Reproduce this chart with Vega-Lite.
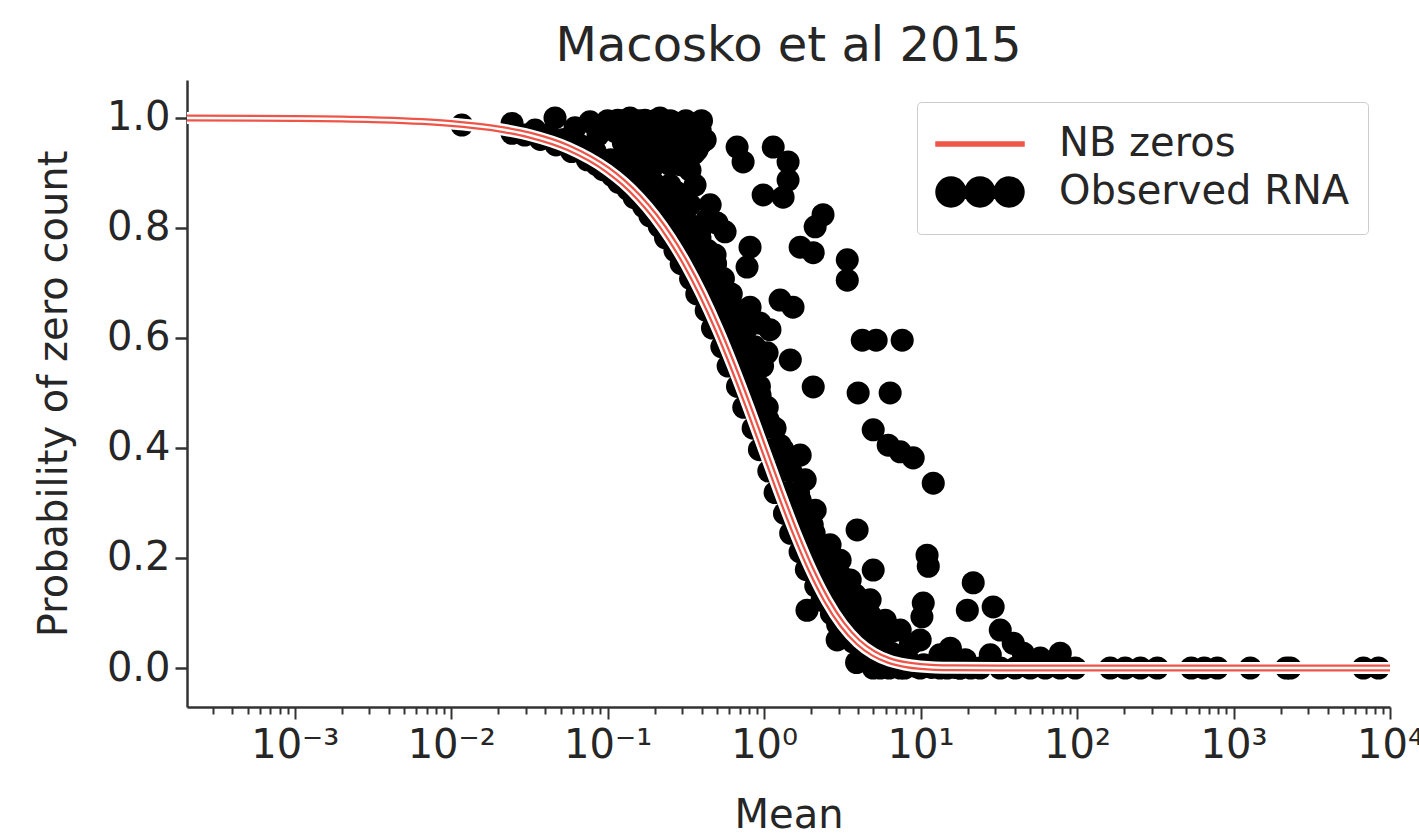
{
"$schema": "https://vega.github.io/schema/vega-lite/v6.json",
"autosize": {"type": "none"},
"padding": {"left": 187, "top": 80, "right": 29, "bottom": 130},
"width": 1203,
"height": 627,
"background": "white",
"config": {"view": {"stroke": null}, "font": "DejaVu Sans"},
"title": {"text": "Macosko et al 2015", "fontSize": 48, "font": "DejaVu Sans", "fontWeight": "normal", "color": "#262626", "offset": 9, "anchor": "middle"},
"datasets": {
"curve": [
{"m":0.000205,"p":0.9998},{"m":0.001,"p":0.999},{"m":0.00316,"p":0.9968},{"m":0.01,"p":0.9901},{"m":0.0178,"p":0.9824},{"m":0.0316,"p":0.969},{"m":0.0562,"p":0.9456},{"m":0.1,"p":0.9056},{"m":0.1259,"p":0.8829},{"m":0.1585,"p":0.8552},{"m":0.1995,"p":0.8218},{"m":0.2512,"p":0.7818},{"m":0.3162,"p":0.7348},{"m":0.3981,"p":0.6801},{"m":0.5012,"p":0.6179},{"m":0.631,"p":0.5488},{"m":0.7943,"p":0.4743},{"m":1,"p":0.3966},{"m":1.259,"p":0.3189},{"m":1.585,"p":0.245},{"m":1.995,"p":0.1786},{"m":2.512,"p":0.1227},{"m":3.162,"p":0.0789},{"m":3.981,"p":0.0472},{"m":5.012,"p":0.0262},{"m":6.31,"p":0.0134},{"m":7.943,"p":0.0064},{"m":10,"p":0.0028},{"m":15.85,"p":0.0004},{"m":31.62,"p":0.0},{"m":100,"p":0},{"m":10000,"p":0}
],
"pts": [
{"m":0.0117,"p":0.987},{"m":0.0245,"p":0.99},{"m":0.0245,"p":0.972},{"m":0.0344,"p":0.978},{"m":0.0461,"p":1.0},{"m":0.0619,"p":0.982},{"m":0.0771,"p":0.993},{"m":0.0868,"p":0.969},
{"m":0.116,"p":0.996},{"m":0.139,"p":1.0},{"m":0.173,"p":0.996},{"m":0.216,"p":1.0},{"m":0.258,"p":0.993},{"m":0.313,"p":0.987},{"m":0.129,"p":0.969},{"m":0.161,"p":0.96},{"m":0.201,"p":0.969},{"m":0.243,"p":0.96},{"m":0.187,"p":0.933},{"m":0.233,"p":0.927},{"m":0.29,"p":0.942},{"m":0.39,"p":0.978},{"m":0.42,"p":0.96},{"m":0.373,"p":0.942},{"m":0.336,"p":0.905},{"m":0.278,"p":0.864},{"m":0.432,"p":0.815},
{"m":0.1,"p":0.995},{"m":0.126,"p":0.995},{"m":0.158,"p":0.995},{"m":0.2,"p":0.995},{"m":0.251,"p":0.995},{"m":0.316,"p":0.995},{"m":0.398,"p":0.995},
{"m":0.112,"p":0.975},{"m":0.141,"p":0.975},{"m":0.178,"p":0.975},{"m":0.224,"p":0.975},{"m":0.282,"p":0.975},{"m":0.355,"p":0.975},
{"m":0.126,"p":0.955},{"m":0.158,"p":0.955},{"m":0.2,"p":0.955},{"m":0.251,"p":0.955},{"m":0.316,"p":0.955},{"m":0.398,"p":0.955},
{"m":0.141,"p":0.935},{"m":0.178,"p":0.935},{"m":0.224,"p":0.935},{"m":0.282,"p":0.935},{"m":0.355,"p":0.935},
{"m":0.2,"p":0.915},{"m":0.251,"p":0.915},{"m":0.316,"p":0.915},
{"m":0.672,"p":0.947},{"m":0.734,"p":0.92},{"m":1.143,"p":0.947},{"m":1.423,"p":0.92},{"m":1.423,"p":0.887},{"m":0.986,"p":0.86},{"m":1.322,"p":0.856},{"m":2.38,"p":0.824},{"m":2.12,"p":0.802},{"m":1.7,"p":0.765},{"m":2.06,"p":0.755},{"m":3.4,"p":0.742},{"m":3.4,"p":0.705},{"m":0.813,"p":0.765},{"m":0.778,"p":0.729},{"m":0.5,"p":0.809},
{"m":1.53,"p":0.656},{"m":1.47,"p":0.56},{"m":2.06,"p":0.511},{"m":4.24,"p":0.596},{"m":5.2,"p":0.596},{"m":7.63,"p":0.596},{"m":3.99,"p":0.5},{"m":6.39,"p":0.5},{"m":4.98,"p":0.433},{"m":6.21,"p":0.405},{"m":7.41,"p":0.393},{"m":8.97,"p":0.382},{"m":12.05,"p":0.336},
{"m":3.93,"p":0.251},{"m":3.06,"p":0.196},{"m":4.98,"p":0.178},{"m":11.0,"p":0.205},{"m":11.2,"p":0.185},{"m":10.4,"p":0.118},{"m":10.2,"p":0.093},{"m":21.7,"p":0.155},{"m":19.9,"p":0.105},{"m":29.1,"p":0.111},{"m":32.3,"p":0.069},{"m":39.1,"p":0.045},{"m":45.3,"p":0.027},
{"m":0.29,"p":0.915},{"m":0.25,"p":0.878},{"m":0.362,"p":0.878},{"m":0.336,"p":0.842},{"m":0.452,"p":0.842},{"m":0.39,"p":0.796},{"m":0.563,"p":0.793},{"m":0.486,"p":0.751},{"m":0.523,"p":0.705},{"m":0.589,"p":0.669},{"m":0.653,"p":0.633},{"m":0.723,"p":0.587},{"m":0.813,"p":0.542},{"m":0.942,"p":0.496},{"m":1.06,"p":0.451},{"m":1.265,"p":0.405},{"m":1.466,"p":0.36},{"m":1.7,"p":0.305},{"m":2.03,"p":0.26},{"m":2.455,"p":0.215},{"m":3.06,"p":0.169},{"m":3.82,"p":0.133},{"m":4.76,"p":0.096},{"m":6.39,"p":0.065},{"m":8.59,"p":0.042},{"m":13.3,"p":0.024},{"m":19.3,"p":0.015},
{"m":0.813,"p":0.656},{"m":0.942,"p":0.627},{"m":1.045,"p":0.573},{"m":1.265,"p":0.669},{"m":1.09,"p":0.615},
{"m":1.7,"p":0.387},{"m":1.83,"p":0.342},{"m":2.12,"p":0.287},{"m":2.64,"p":0.224},{"m":3.55,"p":0.16},{"m":4.76,"p":0.124},{"m":5.94,"p":0.087},{"m":7.41,"p":0.069},{"m":9.94,"p":0.051},{"m":15.5,"p":0.036},{"m":27.9,"p":0.024},{"m":58.2,"p":0.018},
{"m":2.64,"p":0.124},{"m":3.55,"p":0.096},{"m":4.11,"p":0.069},{"m":5.52,"p":0.042},{"m":1.88,"p":0.105},{"m":2.93,"p":0.051},{"m":4.98,"p":0.0},{"m":3.9,"p":0.01},{"m":6.3,"p":0.0},{"m":7.9,"p":0.0},
{"m":0.02951,"p":0.969},{"m":0.03548,"p":0.969},{"m":0.04168,"p":0.969},
{"m":0.03715,"p":0.961},{"m":0.04467,"p":0.961},{"m":0.05247,"p":0.961},
{"m":0.04678,"p":0.951},{"m":0.05623,"p":0.951},{"m":0.06606,"p":0.951},
{"m":0.05889,"p":0.939},{"m":0.0708,"p":0.939},{"m":0.08317,"p":0.939},
{"m":0.07413,"p":0.924},{"m":0.08912,"p":0.924},{"m":0.1047,"p":0.924},
{"m":0.09333,"p":0.906},{"m":0.1122,"p":0.906},{"m":0.1318,"p":0.906},
{"m":0.1175,"p":0.883},{"m":0.1413,"p":0.883},{"m":0.166,"p":0.883},
{"m":0.1479,"p":0.855},{"m":0.1778,"p":0.855},{"m":0.2089,"p":0.855},
{"m":0.1862,"p":0.822},{"m":0.2239,"p":0.822},{"m":0.263,"p":0.822},
{"m":0.2344,"p":0.782},{"m":0.2818,"p":0.782},{"m":0.3311,"p":0.782},
{"m":0.2951,"p":0.735},{"m":0.3548,"p":0.735},{"m":0.4169,"p":0.735},
{"m":0.3715,"p":0.68},{"m":0.4467,"p":0.68},{"m":0.5248,"p":0.68},
{"m":0.4677,"p":0.618},{"m":0.5623,"p":0.618},{"m":0.6607,"p":0.618},
{"m":0.5889,"p":0.549},{"m":0.7079,"p":0.549},{"m":0.8318,"p":0.549},
{"m":0.7413,"p":0.474},{"m":0.8913,"p":0.474},{"m":1.047,"p":0.474},
{"m":0.9333,"p":0.397},{"m":1.122,"p":0.397},{"m":1.318,"p":0.397},
{"m":1.175,"p":0.319},{"m":1.413,"p":0.319},{"m":1.66,"p":0.319},
{"m":1.479,"p":0.245},{"m":1.778,"p":0.245},{"m":2.089,"p":0.245},
{"m":1.862,"p":0.179},{"m":2.239,"p":0.179},{"m":2.63,"p":0.179},
{"m":2.344,"p":0.123},{"m":2.818,"p":0.123},{"m":3.311,"p":0.123},
{"m":2.951,"p":0.079},{"m":3.548,"p":0.079},{"m":4.169,"p":0.079},
{"m":3.715,"p":0.047},{"m":4.467,"p":0.047},{"m":5.248,"p":0.047},
{"m":4.677,"p":0.026},{"m":5.623,"p":0.026},{"m":6.607,"p":0.026},
{"m":5.889,"p":0.013},{"m":7.079,"p":0.013},{"m":8.318,"p":0.013},
{"m":7.413,"p":0.006},{"m":8.913,"p":0.006},{"m":10.47,"p":0.006},
{"m":9.333,"p":0.003},{"m":11.22,"p":0.003},{"m":13.18,"p":0.003},
{"m":11.75,"p":0.001},{"m":14.13,"p":0.001},{"m":16.6,"p":0.001},
{"m":14.79,"p":0.0},{"m":17.78,"p":0.0},{"m":20.89,"p":0.0},
{"m":0.0851,"p":0.915},{"m":0.1,"p":0.915},{"m":0.1175,"p":0.915},
{"m":0.1072,"p":0.895},{"m":0.1259,"p":0.895},{"m":0.1479,"p":0.895},
{"m":0.1349,"p":0.87},{"m":0.1585,"p":0.87},{"m":0.1862,"p":0.87},
{"m":0.1698,"p":0.839},{"m":0.1995,"p":0.839},{"m":0.2344,"p":0.839},
{"m":0.2138,"p":0.803},{"m":0.2512,"p":0.803},{"m":0.2951,"p":0.803},
{"m":0.2692,"p":0.759},{"m":0.3162,"p":0.759},{"m":0.3715,"p":0.759},
{"m":0.3388,"p":0.708},{"m":0.3981,"p":0.708},{"m":0.4677,"p":0.708},
{"m":0.4266,"p":0.65},{"m":0.5012,"p":0.65},{"m":0.5888,"p":0.65},
{"m":0.537,"p":0.584},{"m":0.631,"p":0.584},{"m":0.7412,"p":0.584},
{"m":0.6761,"p":0.512},{"m":0.7943,"p":0.512},{"m":0.9331,"p":0.512},
{"m":0.8512,"p":0.436},{"m":1.0,"p":0.436},{"m":1.1747,"p":0.436},
{"m":1.0715,"p":0.358},{"m":1.2589,"p":0.358},{"m":1.4788,"p":0.358},
{"m":1.349,"p":0.281},{"m":1.5849,"p":0.281},{"m":1.8617,"p":0.281},
{"m":1.6982,"p":0.211},{"m":1.9953,"p":0.211},{"m":2.3438,"p":0.211},
{"m":2.138,"p":0.149},{"m":2.5119,"p":0.149},{"m":2.9506,"p":0.149},
{"m":2.6916,"p":0.099},{"m":3.1623,"p":0.099},{"m":3.7146,"p":0.099},
{"m":3.3885,"p":0.062},{"m":3.981,"p":0.062},{"m":4.6764,"p":0.062},
{"m":4.2658,"p":0.036},{"m":5.0119,"p":0.036},{"m":5.8873,"p":0.036},
{"m":5.3704,"p":0.019},{"m":6.3096,"p":0.019},{"m":7.4116,"p":0.019},
{"m":0.1549,"p":0.906},{"m":0.1738,"p":0.895},{"m":0.195,"p":0.883},{"m":0.2188,"p":0.87},{"m":0.2455,"p":0.855},{"m":0.2755,"p":0.839},{"m":0.309,"p":0.822},{"m":0.3468,"p":0.803},{"m":0.3891,"p":0.782},{"m":0.4366,"p":0.759},{"m":0.4898,"p":0.735},{"m":0.5496,"p":0.708},{"m":0.6166,"p":0.68},{"m":0.6919,"p":0.65},{"m":0.7763,"p":0.618},{"m":0.8711,"p":0.584},{"m":0.9774,"p":0.549},
{"m":5.52,"p":0},{"m":7.41,"p":0},{"m":9.94,"p":0},{"m":13.3,"p":0},{"m":17.9,"p":0},{"m":24.0,"p":0},{"m":32.3,"p":0},{"m":40.3,"p":0},{"m":50.2,"p":0},{"m":62.6,"p":0},{"m":78.1,"p":0},{"m":97.3,"p":0},{"m":78.1,"p":0.027},
{"m":163,"p":0},{"m":203,"p":0},{"m":254,"p":0},{"m":326,"p":0},{"m":537,"p":0},{"m":650,"p":0},{"m":788,"p":0},{"m":1280,"p":0},{"m":2177,"p":0},{"m":2307,"p":0},{"m":6761,"p":0},{"m":8433,"p":0}
]
},
"encoding": {
"x": {"field": "m", "type": "quantitative",
 "scale": {"type": "log", "domain": [0.000205, 10000], "nice": false},
 "axis": {"title": "Mean", "grid": false,
  "values": [0.0003,0.0004,0.0005,0.0006,0.0007,0.0008,0.0009,0.001,0.002,0.003,0.004,0.005,0.006,0.007,0.008,0.009,0.01,0.02,0.03,0.04,0.05,0.06,0.07,0.08,0.09,0.1,0.2,0.3,0.4,0.5,0.6,0.7,0.8,0.9,1,2,3,4,5,6,7,8,9,10,20,30,40,50,60,70,80,90,100,200,300,400,500,600,700,800,900,1000,2000,3000,4000,5000,6000,7000,8000,9000,10000],
  "labelExpr": "datum.value == 0.001 ? '10⁻³' : datum.value == 0.01 ? '10⁻²' : datum.value == 0.1 ? '10⁻¹' : datum.value == 1 ? '10⁰' : datum.value == 10 ? '10¹' : datum.value == 100 ? '10²' : datum.value == 1000 ? '10³' : datum.value == 10000 ? '10⁴' : ''",
  "tickSize": {"condition": {"test": "datum.value == 0.001 || datum.value == 0.01 || datum.value == 0.1 || datum.value == 1 || datum.value == 10 || datum.value == 100 || datum.value == 1000 || datum.value == 10000", "value": 12}, "value": 7},
  "labelOverlap": false, "labelFlush": false,
  "labelFontSize": 40, "labelFont": "DejaVu Sans", "labelColor": "#262626", "labelPadding": 6,
  "titleFontSize": 40, "titleFont": "DejaVu Sans", "titleFontWeight": "normal", "titleColor": "#262626", "titlePadding": 30,
  "domainColor": "#333333", "domainWidth": 2.5, "tickColor": "#333333", "tickWidth": 2}},
"y": {"field": "p", "type": "quantitative",
 "scale": {"domain": [-0.0709, 1.069], "nice": false, "zero": false},
 "axis": {"title": "Probability of zero count", "grid": false, "values": [0, 0.2, 0.4, 0.6, 0.8, 1.0], "format": ".1f",
  "tickSize": 12, "labelFontSize": 40, "labelFont": "DejaVu Sans", "labelColor": "#262626", "labelPadding": 5,
  "titleFontSize": 40, "titleFont": "DejaVu Sans", "titleFontWeight": "normal", "titleColor": "#262626", "titlePadding": 32,
  "domainColor": "#333333", "domainWidth": 2.5, "tickColor": "#333333", "tickWidth": 2.5}}
},
"layer": [
{"data": {"name": "pts"},
 "mark": {"type": "circle", "size": 530, "opacity": 1},
 "encoding": {"color": {"datum": "Observed RNA", "type": "nominal",
   "scale": {"domain": ["NB zeros", "Observed RNA"], "range": ["#ee5548", "#000000"]},
   "legend": {"title": null, "orient": "top-right", "offset": 22,
    "strokeColor": "#cccccc", "fillColor": "white", "padding": 18, "cornerRadius": 4,
    "labelFontSize": 40, "labelFont": "DejaVu Sans", "labelColor": "#262626", "labelLimit": 600,
    "symbolSize": 7744, "clipHeight": 48, "rowPadding": 0, "labelOffset": 34, "symbolOpacity": 1}}}},
{"data": {"values": []},
 "mark": {"type": "point", "filled": true, "opacity": 1, "size": 530},
 "encoding": {
   "color": {"datum": "Observed RNA", "type": "nominal"},
   "shape": {"datum": "Observed RNA", "type": "nominal",
   "scale": {"domain": ["NB zeros", "Observed RNA"], "range": ["M-1,-0.045L1,-0.045L1,0.045L-1,0.045Z", "M-1,0a0.34,0.34 0 1,0 0.68,0a0.34,0.34 0 1,0 -0.68,0ZM-0.34,0a0.34,0.34 0 1,0 0.68,0a0.34,0.34 0 1,0 -0.68,0ZM0.32,0a0.34,0.34 0 1,0 0.68,0a0.34,0.34 0 1,0 -0.68,0Z"]},
   "legend": {"title": null, "orient": "top-right", "offset": 22,
    "strokeColor": "#cccccc", "fillColor": "white", "padding": 18, "cornerRadius": 4,
    "labelFontSize": 40, "labelFont": "DejaVu Sans", "labelColor": "#262626", "labelLimit": 600,
    "symbolSize": 7744, "clipHeight": 48, "rowPadding": 0, "labelOffset": 34, "symbolOpacity": 1}}}},
{"data": {"name": "curve"},
 "mark": {"type": "line", "color": "white", "strokeWidth": 12, "interpolate": "monotone"},
 "encoding": {}},
{"data": {"name": "curve"},
 "mark": {"type": "line", "strokeWidth": 7, "interpolate": "monotone"},
 "encoding": {"color": {"datum": "NB zeros", "type": "nominal"}}},
{"data": {"name": "curve"},
 "mark": {"type": "line", "color": "white", "strokeWidth": 2.5, "interpolate": "monotone"},
 "encoding": {}}
]
}
